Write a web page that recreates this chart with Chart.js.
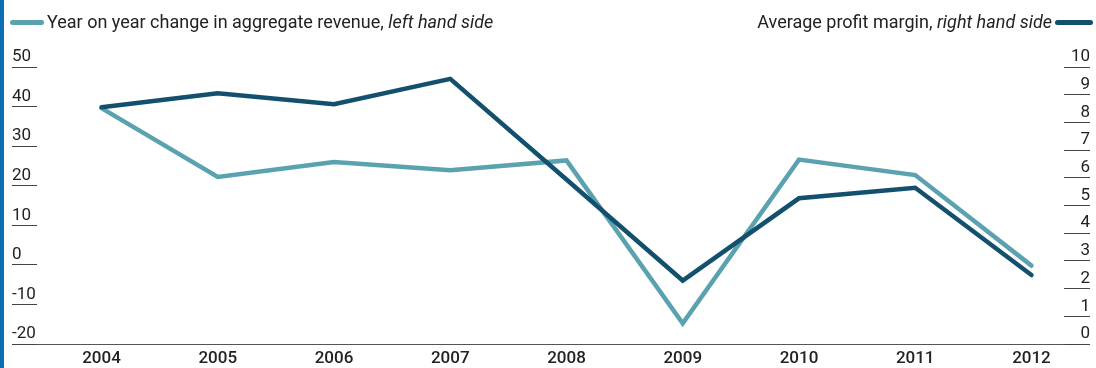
<!DOCTYPE html>
<html>
<head>
<meta charset="utf-8">
<script src="https://cdn.jsdelivr.net/npm/chart.js@4.4.1/dist/chart.umd.min.js"></script>
<style>
    body { margin: 0; background: #fff; }
    #wrap { position: relative; width: 1096px; height: 368px; font-family: Roboto, sans-serif; color: #222; }
    .key { position: absolute; top: 11px; font-size: 18px; line-height: 22px; white-space: nowrap; display: flex; align-items: center; }
    .key i { font-style: italic; }
    .swatch { display: inline-block; width: 34px; height: 5px; border-radius: 3px; }
</style>
</head>
<body>
<div id="wrap">
    <canvas id="chart" width="1096" height="368"></canvas>
    <div class="key" id="keyLeft" style="left:10px;">
        <span class="swatch" style="background:#5ba2b0;margin-right:3px;"></span>
        <span>Year on year change in aggregate revenue,&nbsp;<i>left hand side</i></span>
    </div>
    <div class="key" id="keyRight" style="right:3px;">
        <span>Average profit margin,&nbsp;<i>right hand side</i></span>
        <span class="swatch" style="background:#13506e;margin-left:3px;width:38px;"></span>
    </div>
</div>
<script>
const years = [2004, 2005, 2006, 2007, 2008, 2009, 2010, 2011, 2012];
// % change, left axis
const revenueChange = [39.6, 22.2, 26.0, 23.9, 26.4, -14.8, 26.6, 22.7, -0.2];
// %, right axis
const profitMargin = [8.55, 9.05, 8.66, 9.57, 5.94, 2.29, 5.26, 5.64, 2.49];

const leftMin = -20, leftMax = 50, leftStep = 10;
const rightMin = 0, rightMax = 10, rightStep = 1;
// x range a little wider than the data, more room on the left
const xMin = 2003.445, xMax = 2012.28;

const lightTeal = '#5ba2b0';
const darkTeal = '#13506e';
const tickFont = { family: 'Roboto, sans-serif', size: 17 };

const sideBar = {
    id: "sideBar",
    beforeDraw(chart) {
        const { ctx } = chart;
        ctx.save();
        ctx.fillStyle = '#0b6eb4';
        ctx.fillRect(0, 0, 4, chart.height);
        ctx.restore();
    }
};

document.addEventListener("DOMContentLoaded", function () {
    const ctx = document.getElementById("chart").getContext("2d");

    new Chart(ctx, {
        type: "line",
        data: {
            datasets: [{
                label: "Year on year change in aggregate revenue",
                data: years.map((y, i) => ({ x: y, y: revenueChange[i] })),
                borderColor: lightTeal,
                borderWidth: 4.5,
                borderJoinStyle: "miter",
                borderCapStyle: "round",
                pointRadius: 0,
                tension: 0,
                yAxisID: "yLeft",
                order: 1
            }, {
                label: "Average profit margin",
                data: years.map((y, i) => ({ x: y, y: profitMargin[i] })),
                borderColor: darkTeal,
                borderWidth: 4.5,
                borderJoinStyle: "miter",
                borderCapStyle: "round",
                pointRadius: 0,
                tension: 0,
                yAxisID: "yRight",
                order: 0
            }]
        },
        options: {
            responsive: false,
            animation: false,
            layout: { padding: { top: 67, left: 12, right: 6, bottom: 0 } },
            plugins: {
                legend: { display: false },
                tooltip: { enabled: false }
            },
            scales: {
                x: {
                    type: "linear",
                    min: xMin,
                    max: xMax,
                    afterBuildTicks: scale => { scale.ticks = years.map(v => ({ value: v })); },
                    afterFit: scale => { scale.height = 24; },
                    grid: { display: false, drawTicks: false },
                    border: { display: true, color: '#555', width: 1 },
                    ticks: {
                        autoSkip: false,
                        maxRotation: 0,
                        padding: 5,
                        color: '#222',
                        font: { family: 'Roboto, sans-serif', size: 17, weight: '500' },
                        callback: v => String(v)
                    }
                },
                yLeft: {
                    position: "left",
                    min: leftMin,
                    max: leftMax,
                    afterFit: scale => { scale.width = 25; },
                    grid: { drawOnChartArea: false, drawTicks: true, tickLength: 25, color: '#444', lineWidth: 1 },
                    border: { display: false },
                    ticks: {
                        stepSize: leftStep,
                        crossAlign: "far",
                        labelOffset: -10,
                        color: '#222',
                        font: tickFont
                    }
                },
                yRight: {
                    position: "right",
                    min: rightMin,
                    max: rightMax,
                    afterFit: scale => { scale.width = 26; },
                    grid: { drawOnChartArea: false, drawTicks: true, tickLength: 26, color: '#444', lineWidth: 1 },
                    border: { display: false },
                    ticks: {
                        stepSize: rightStep,
                        crossAlign: "far",
                        labelOffset: -10,
                        color: '#222',
                        font: tickFont
                    }
                }
            }
        },
        plugins: [sideBar]
    });
});
</script>
</body>
</html>
